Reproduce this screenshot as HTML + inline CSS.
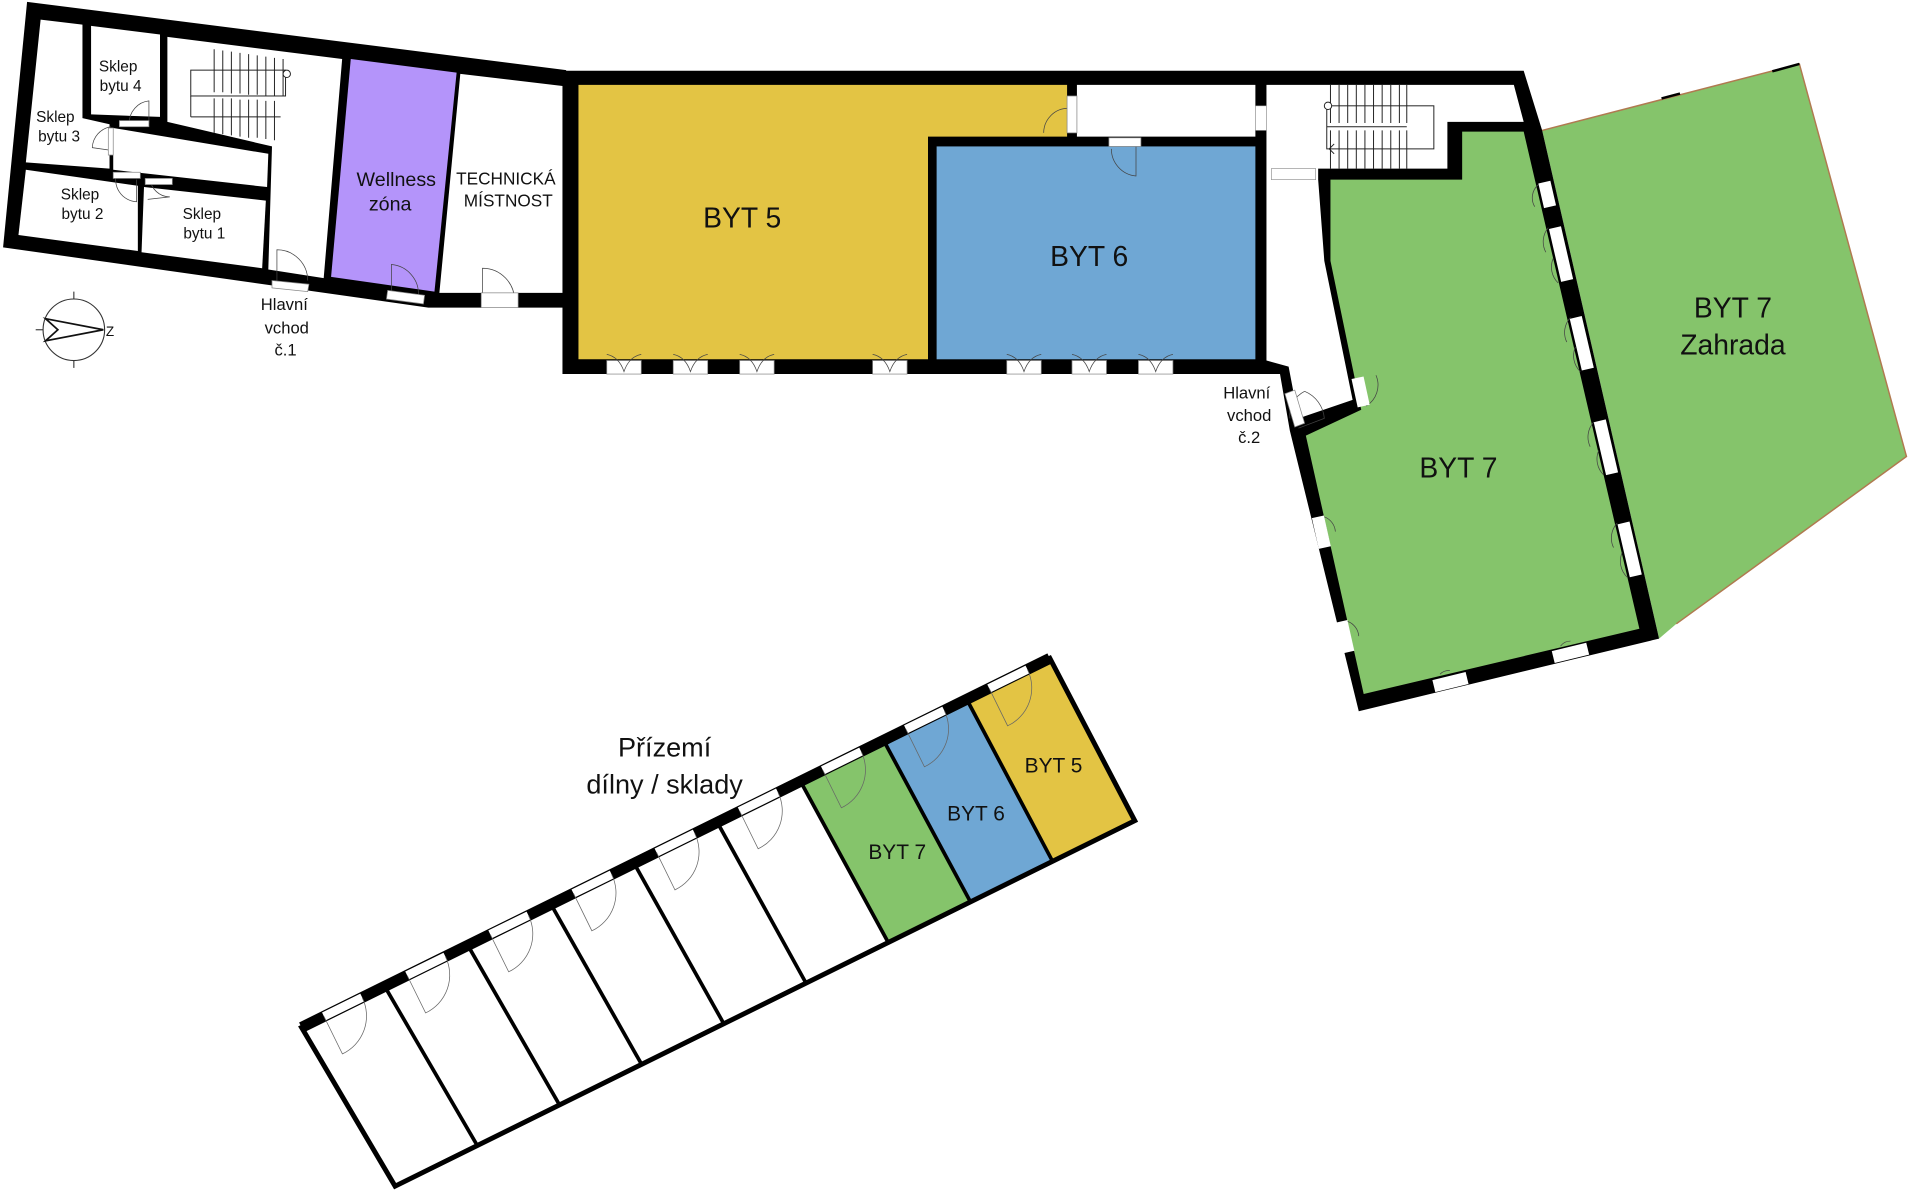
<!DOCTYPE html>
<html><head><meta charset="utf-8"><style>
html,body{margin:0;padding:0;background:#fff;}
svg{display:block;}
text{font-family:"Liberation Sans","DejaVu Sans",sans-serif;fill:#111;}
</style></head><body>
<svg width="1920" height="1196" viewBox="0 0 1560 972" preserveAspectRatio="none" xmlns="http://www.w3.org/2000/svg">
<rect width="1560" height="972" fill="#fff"/>

<!-- Zahrada -->
<polygon points="1253,106 1462,52 1549,371 1362,507 1348,519" fill="#85c46b"/>
<polyline points="1253,106 1462,52 1549,371 1362,507" fill="none" stroke="#b07a50" stroke-width="1.2"/>
<line x1="1350" y1="80" x2="1365" y2="76" stroke="#000" stroke-width="2"/>
<line x1="1440" y1="58" x2="1462" y2="52" stroke="#000" stroke-width="2"/>

<!-- LEFT BLOCK walls -->
<polygon points="22,1.5 460,57 460,250 348,250 2.5,201" fill="#000"/>
<!-- rooms -->
<polygon points="33,16 67,20 67,96 89,101 89,137 21,132" fill="#fff"/>
<polygon points="74,21 130,28 130,95 74,93" fill="#fff"/>
<polygon points="92,104 218,125 217,152 92,138" fill="#fff"/>
<polygon points="136,30 278,48 263,226 218,219 221,119 136,99" fill="#fff"/>
<polygon points="21,138 112,151 112,204 15,191" fill="#fff"/>
<polygon points="117,152 216,163 213,218 115,205" fill="#fff"/>
<polygon points="285,48 371,59 353,237 269,225" fill="#b494fa"/>
<polygon points="374,60 458,70 458,238 357,238" fill="#fff"/>

<!-- left stairs -->
<g stroke="#222" stroke-width="0.8" fill="none">
<rect x="155" y="57" width="77" height="21"/>
<line x1="155" y1="78" x2="155" y2="95"/>
<line x1="155" y1="95" x2="228" y2="95"/>
<path d="M174,40 V75 M181,41 V75 M188,42 V76 M195,43 V76 M202,44 V77 M209,45 V77 M216,46 V78 M223,47 V78 M230,48 V78"/>
<path d="M174,80 V108 M181,80 V109 M188,80 V110 M195,81 V111 M202,81 V112 M209,81 V112 M216,82 V113 M223,82 V114"/>
<circle cx="233" cy="60" r="3" fill="#fff"/>
</g>
<!-- left block doors -->
<g stroke="#444" stroke-width="0.6" fill="none">
<path d="M105,100 A18,18 0 0 1 121,82 V100"/>
<path d="M90,103 A18,18 0 0 0 75,120 L89,122"/>
<path d="M95,140 A18,18 0 0 0 111,164 V146"/>
<path d="M122,145 A16,16 0 0 0 138,160 L120,162"/>
<path d="M225,228 V203 A25,25 0 0 1 250,228"/>
<path d="M318,236 V215 A24,24 0 0 1 340,240"/>
<path d="M392,245 V218 A26,26 0 0 1 418,245"/>
</g>
<g fill="#fff" stroke="#888" stroke-width="0.6">
<polygon points="221,228 251,231 250,237 221,234"/>
<polygon points="315,236 345,240 344,247 314,243"/>
<rect x="391" y="238" width="30" height="12"/>
<rect x="97" y="98" width="24" height="5"/>
<rect x="88" y="104" width="4" height="22"/>
<rect x="92" y="140" width="22" height="5"/>
<rect x="118" y="145" width="22" height="5"/>
</g>

<!-- MAIN RIGHT BUILDING walls -->
<polygon points="457,57.5 1238,57.5 1253,106 1348,519 1104,578 1048,350 1040,304 457,304" fill="#000"/>
<polygon points="470,69 867,69 867,111 754,111 754,292 470,292" fill="#e3c444"/>
<polygon points="875,69 1020,69 1020,111 875,111" fill="#fff"/>
<polygon points="1029,69 1230,69 1238,99 1176,99 1176,137 1071,137 1071,146 1076,212 1099,325 1055,340 1047,298 1029,293 1029,146 1029,137" fill="#fff"/>
<rect x="1020" y="86" width="9" height="20" fill="#fff" stroke="#888" stroke-width="0.5"/>
<rect x="1033" y="137" width="36" height="9" fill="#fff" stroke="#888" stroke-width="0.5"/>
<rect x="761" y="119" width="259" height="173" fill="#6fa7d4"/>
<polygon points="1081,146 1188,146 1188,107 1238,107 1332,511 1108,564 1061,354 1106,333 1081,212" fill="#85c46b"/>

<!-- right stairs -->
<g stroke="#222" stroke-width="0.8" fill="none">
<rect x="1078" y="86" width="87" height="35"/>
<line x1="1078" y1="103" x2="1143" y2="103"/>
<path d="M1081,69 V100 M1088,69 V100 M1095,69 V100 M1102,69 V100 M1109,69 V100 M1116,69 V100 M1123,69 V100 M1130,69 V100 M1137,69 V100 M1143,69 V100"/>
<path d="M1081,106 V137 M1088,106 V137 M1095,106 V137 M1102,106 V137 M1109,106 V137 M1116,106 V137 M1123,106 V137 M1130,106 V137 M1137,106 V137 M1143,106 V137"/>
<path d="M1084,117 l-4,4 4,4"/>
<circle cx="1079" cy="86" r="3" fill="#fff"/>
</g>

<!-- doors main building -->
<g stroke="#444" stroke-width="0.6" fill="none">
<path d="M848,108 A20,20 0 0 1 868,88 V108"/>
<path d="M923,118 V143 A22,22 0 0 1 903,121"/>
<path d="M1048,340 A22,22 0 0 1 1060,318"/>
<path d="M1060,318 A26,26 0 0 1 1076,340 L1055,348"/>
<path d="M1110,330 A20,20 0 0 0 1118,305"/>
</g>
<g fill="#fff" stroke="#888" stroke-width="0.6">
<rect x="901" y="112" width="26" height="7"/>
<rect x="867" y="78" width="8" height="30"/>
<polygon points="1044,320 1052,317 1060,344 1052,347"/>
</g>

<!-- bottom windows BYT5/6 -->
<g fill="#fff" stroke="#888" stroke-width="0.6">
<rect x="493" y="293" width="28" height="11"/><rect x="547" y="293" width="28" height="11"/>
<rect x="601" y="293" width="28" height="11"/><rect x="709" y="293" width="28" height="11"/>
<rect x="818" y="293" width="28" height="11"/><rect x="871" y="293" width="28" height="11"/>
<rect x="925" y="293" width="28" height="11"/>
</g>
<g stroke="#444" stroke-width="0.6" fill="none">
<path d="M493,288 Q503,290 507,302 Q511,290 521,288 M547,288 Q557,290 561,302 Q565,290 575,288 M601,288 Q611,290 615,302 Q619,290 629,288 M709,288 Q719,290 723,302 Q727,290 737,288 M818,288 Q828,290 832,302 Q836,290 846,288 M871,288 Q881,290 885,302 Q889,290 899,288 M925,288 Q935,290 939,302 Q943,290 953,288"/>
</g>

<!-- BYT7 windows -->
<g stroke="#fff" stroke-width="10" fill="none">
<line x1="1254.8" y1="148" x2="1259.4" y2="168"/>
<line x1="1263.4" y1="185" x2="1273.3" y2="228"/>
<line x1="1280.3" y1="258" x2="1290.1" y2="300"/>
<line x1="1299.8" y1="342" x2="1309.8" y2="385"/>
<line x1="1319.1" y1="425" x2="1329.1" y2="468"/>
<line x1="1070.8" y1="420" x2="1076.4" y2="445"/>
<line x1="1089.9" y1="505" x2="1095.5" y2="530"/>
<line x1="1103" y1="307" x2="1108" y2="330"/>
<line x1="1165" y1="557.6" x2="1192" y2="551"/>
<line x1="1262" y1="534" x2="1290" y2="527.2"/>
</g>
<g stroke="#444" stroke-width="0.6" fill="none">
<path d="M1250,150 A14,14 0 0 0 1247,168 M1258,185 A18,18 0 0 0 1256,205 M1262,210 A18,18 0 0 0 1266,230 M1276,258 A18,18 0 0 0 1273,278 M1280,282 A18,18 0 0 0 1284,302 M1295,343 A18,18 0 0 0 1292,363 M1299,366 A18,18 0 0 0 1303,386 M1314,425 A18,18 0 0 0 1311,445 M1318,449 A18,18 0 0 0 1322,469"/>
<path d="M1076,420 A14,14 0 0 1 1085,432 M1095,505 A14,14 0 0 1 1104,517 M1170,548 A10,10 0 0 1 1178,545 M1268,525 A10,10 0 0 1 1276,521"/>
</g>

<!-- Compass -->
<g stroke="#333" stroke-width="0.9" fill="none">
<circle cx="60" cy="268" r="25"/>
<line x1="60" y1="237" x2="60" y2="243"/><line x1="60" y1="293" x2="60" y2="299"/>
<line x1="29" y1="268" x2="35" y2="268"/>
<polygon points="37,259 84,268 37,277 47,268" stroke="#111" stroke-width="1.4"/>
</g>
<text x="86" y="273" font-size="11">Z</text>

<!-- GROUND FLOOR -->
<g>
<polygon points="650.4,635 717.9,601.7 788.5,733 721.7,766" fill="#85c46b"/>
<polygon points="717.9,601.7 785.5,568.4 855.2,700 788.5,733" fill="#6fa7d4"/>
<polygon points="785.5,568.4 853,535 922,667 855.2,700" fill="#e3c444"/>
<polygon points="245,835 853,535 922,667 321,964" fill="none" stroke="#000" stroke-width="4"/>
<line x1="245" y1="835" x2="853" y2="535" stroke="#000" stroke-width="9"/>
<g stroke="#000" stroke-width="3">
<line x1="312.6" y1="801.7" x2="387.8" y2="931"/>
<line x1="380.1" y1="768.3" x2="454.6" y2="898"/>
<line x1="447.7" y1="735" x2="521.3" y2="865"/>
<line x1="515.2" y1="701.7" x2="588.1" y2="832"/>
<line x1="582.8" y1="668.3" x2="654.9" y2="799"/>
<line x1="650.4" y1="635" x2="721.7" y2="766"/>
<line x1="717.9" y1="601.7" x2="788.5" y2="733"/>
<line x1="785.5" y1="568.4" x2="855.2" y2="700"/>
</g>
<g stroke="#fff" stroke-width="7">
<line x1="263.2" y1="826" x2="294.3" y2="810.7"/>
<line x1="330.8" y1="792.7" x2="361.9" y2="777.4"/>
<line x1="398.3" y1="759.3" x2="429.4" y2="744"/>
<line x1="465.9" y1="726" x2="497" y2="710.7"/>
<line x1="533.4" y1="692.7" x2="564.5" y2="677.4"/>
<line x1="601" y1="659.3" x2="632.1" y2="644"/>
<line x1="668.6" y1="626" x2="699.7" y2="610.7"/>
<line x1="736.1" y1="592.7" x2="767.2" y2="577.4"/>
<line x1="803.7" y1="559.4" x2="834.8" y2="544.1"/>
</g>
<g stroke="#666" stroke-width="0.6" fill="none">
<path d="M263.2,826 L278.2,856.5 A34,34 0 0 0 294.3,810.7"/>
<path d="M330.8,792.7 L345.8,823.2 A34,34 0 0 0 361.9,777.4"/>
<path d="M398.3,759.3 L413.3,789.8 A34,34 0 0 0 429.4,744"/>
<path d="M465.9,726 L480.9,756.5 A34,34 0 0 0 497,710.7"/>
<path d="M533.4,692.7 L548.4,723.2 A34,34 0 0 0 564.5,677.4"/>
<path d="M601,659.3 L616,689.8 A34,34 0 0 0 632.1,644"/>
<path d="M668.6,626 L683.6,656.5 A34,34 0 0 0 699.7,610.7"/>
<path d="M736.1,592.7 L751.1,623.2 A34,34 0 0 0 767.2,577.4"/>
<path d="M803.7,559.4 L818.7,589.9 A34,34 0 0 0 834.8,544.1"/>
</g>
</g>

<!-- LABELS -->
<g text-anchor="middle">
<text x="603" y="185" font-size="23">BYT 5</text>
<text x="885" y="216" font-size="23">BYT 6</text>
<text x="1185" y="388" font-size="23">BYT 7</text>
<text x="1408" y="258" font-size="23">BYT 7</text>
<text x="1408" y="288" font-size="23">Zahrada</text>
<text x="322" y="151" font-size="16">Wellness</text>
<text x="317" y="171" font-size="16">zóna</text>
<text x="411" y="150" font-size="14">TECHNICKÁ</text>
<text x="413" y="168" font-size="14">MÍSTNOST</text>
<text x="96" y="58" font-size="12.5">Sklep</text><text x="98" y="74" font-size="12.5">bytu 4</text>
<text x="45" y="99" font-size="12.5">Sklep</text><text x="48" y="115" font-size="12.5">bytu 3</text>
<text x="65" y="162" font-size="12.5">Sklep</text><text x="67" y="178" font-size="12.5">bytu 2</text>
<text x="164" y="178" font-size="12.5">Sklep</text><text x="166" y="194" font-size="12.5">bytu 1</text>
<text x="231" y="252" font-size="13.5">Hlavní</text><text x="233" y="271" font-size="13.5">vchod</text><text x="232" y="289" font-size="13.5">č.1</text>
<text x="1013" y="324" font-size="13.5">Hlavní</text><text x="1015" y="342" font-size="13.5">vchod</text><text x="1015" y="360" font-size="13.5">č.2</text>
<text x="540" y="615" font-size="22">Přízemí</text>
<text x="540" y="645" font-size="22">dílny / sklady</text>
<text x="729" y="698" font-size="17">BYT 7</text>
<text x="793" y="667" font-size="17">BYT 6</text>
<text x="856" y="628" font-size="17">BYT 5</text>
</g>
</svg>
</body></html>
